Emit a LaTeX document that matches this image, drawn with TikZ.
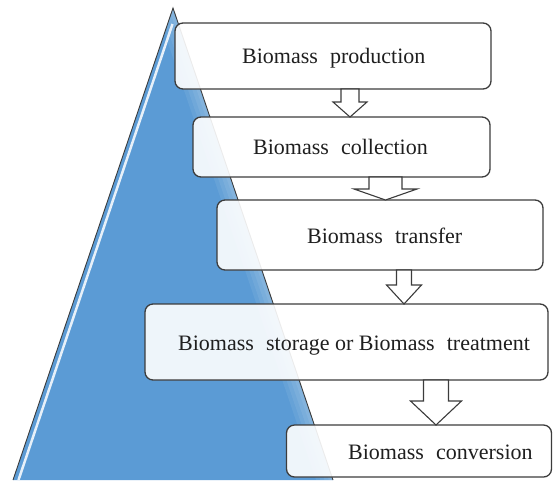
\documentclass[tikz,border=0pt]{standalone}
\usepackage{fontspec}
\setmainfont{Liberation Serif}
\newfontfamily\stagefont{Liberation Serif}
\usetikzlibrary{calc}
\definecolor{pyr}{RGB}{91,155,213}
\definecolor{edgec}{RGB}{60,60,60}
\newcommand\gap{\hspace{0.55em}}
\tikzset{
  stagebox/.style={draw=edgec, line width=1.3pt, rounded corners=8pt, fill=white,
    fill opacity=0.9, inner sep=0pt, outer sep=0pt},
  stagetext/.style={anchor=base west, inner sep=0pt, font=\stagefont\fontsize{22}{26}\selectfont, text=black!88},
  blockarr/.style={draw=edgec, line width=1.1pt, fill=white, line join=miter},
}
\newcommand\blockarrow[6]{%
  \draw[blockarr] let \p1=(#1.south), \p2=(#2.north) in
   ({#3pt-#4pt},\y1) -- ({#3pt-#4pt},{\y2+#6pt}) -- ({#3pt-#5pt},{\y2+#6pt}) --
   (#3pt,\y2) -- ({#3pt+#5pt},{\y2+#6pt}) -- ({#3pt+#4pt},{\y2+#6pt}) --
   ({#3pt+#4pt},\y1) -- cycle;}
\begin{document}
\begin{tikzpicture}[x=1pt,y=-1pt]
\useasboundingbox (0,0) rectangle (553,480);
% pyramid
\coordinate (apex) at (173,8);
\coordinate (bl) at (13,480);
\coordinate (br) at (333,480);
\fill[pyr] (apex) -- (bl) -- (br) -- cycle;
\begin{scope}
  \clip (apex) -- (bl) -- (br) -- cycle;
  \foreach \w in {8,16,24,32}
    \draw[white, opacity=0.07, line width=\w pt] (apex) -- (br);
\end{scope}
\coordinate (hs) at (172.5,24);
\coordinate (he) at (18.5,480);
\draw[white!85!pyr, line width=2.5pt] (hs) -- (he);
\draw[edgec, line width=0.9pt, line join=miter] (bl) -- (apex) -- (br);
% boxes
\node[stagebox, minimum width=316pt, minimum height=66pt] (b1) at (333,56) {};
\node[stagebox, minimum width=297pt, minimum height=60pt] (b2) at (341.5,147) {};
\node[stagebox, minimum width=326pt, minimum height=70pt] (b3) at (380,235) {};
\node[stagebox, minimum width=403pt, minimum height=76pt] (b4) at (346.5,342) {};
\node[stagebox, minimum width=265pt, minimum height=52pt] (b5) at (419,451) {};
% texts
\node[stagetext] (t1) at (242,63) {Biomass\gap production};
\node[stagetext] (t2) at (253,154) {Biomass\gap collection};
\node[stagetext] (t3) at (307,243) {Biomass\gap transfer};
\node[stagetext] (t4) at (178,350) {Biomass\gap storage or Biomass\gap treatment};
\node[stagetext] (t5) at (348,459) {Biomass\gap conversion};
% arrows
\blockarrow{b1}{b2}{350}{9}{17}{15}
\blockarrow{b2}{b3}{385.5}{16.5}{31.5}{11}
\blockarrow{b3}{b4}{404}{7.5}{17.5}{19}
\blockarrow{b4}{b5}{436}{12.5}{25.5}{24}
\end{tikzpicture}
\end{document}
